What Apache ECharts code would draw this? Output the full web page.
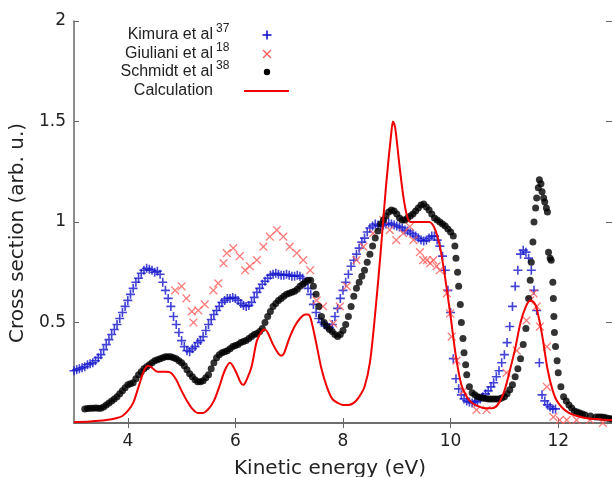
<!DOCTYPE html>
<html>
<head>
<meta charset="utf-8">
<script src="https://cdn.jsdelivr.net/npm/echarts@6/dist/echarts.min.js"></script>
<style>
  html, body { margin: 0; padding: 0; background: #fff; }
  #chart { width: 612px; height: 477px; }
</style>
</head>
<body>
<div id="chart"></div>
<script>
// Kimura et al (blue +)
const kimuraX = [3.00, 3.05, 3.10, 3.15, 3.20, 3.25, 3.30, 3.35, 3.40, 3.45, 3.50, 3.55, 3.60, 3.65, 3.70, 3.75, 3.80, 3.85, 3.90, 3.95,
  4.00, 4.05, 4.10, 4.15, 4.20, 4.25, 4.30, 4.35, 4.40, 4.45, 4.50, 4.55, 4.60, 4.65, 4.70, 4.75, 4.80, 4.85, 4.90, 4.95,
  5.00, 5.05, 5.10, 5.15, 5.20, 5.25, 5.30, 5.35, 5.40, 5.45, 5.50, 5.55, 5.60, 5.65, 5.70, 5.75, 5.80, 5.85, 5.90, 5.95,
  6.00, 6.05, 6.10, 6.15, 6.20, 6.25, 6.30, 6.35, 6.40, 6.45, 6.50, 6.55, 6.60, 6.65, 6.70, 6.75, 6.80, 6.85, 6.90, 6.95,
  7.00, 7.05, 7.10, 7.15, 7.20, 7.25, 7.30, 7.35, 7.40, 7.45, 7.50, 7.55, 7.60, 7.65, 7.70, 7.75, 7.80, 7.85, 7.90, 7.95,
  8.00, 8.05, 8.10, 8.15, 8.20, 8.25, 8.30, 8.35, 8.40, 8.45, 8.50, 8.55, 8.60, 8.65, 8.70, 8.75, 8.80, 8.85, 8.90, 8.95,
  9.00, 9.05, 9.10, 9.15, 9.20, 9.25, 9.30, 9.35, 9.40, 9.45, 9.50, 9.55, 9.60, 9.65, 9.70, 9.75, 9.80, 9.85, 9.90, 9.95,
  10.00, 10.05, 10.10, 10.15, 10.20, 10.25, 10.30, 10.35, 10.40, 10.45, 10.50, 10.55, 10.60, 10.65, 10.70, 10.75, 10.80, 10.85, 10.90, 10.95,
  11.00, 11.05, 11.10, 11.15, 11.20, 11.25, 11.30, 11.35, 11.40, 11.45, 11.50, 11.55, 11.60, 11.65, 11.70, 11.75, 11.80, 11.85, 11.90, 11.95]
const kimuraY = [0.26, 0.265, 0.27, 0.275, 0.28, 0.29, 0.295, 0.30, 0.31, 0.325, 0.34, 0.365, 0.39, 0.415, 0.44, 0.465, 0.49, 0.52, 0.55, 0.58,
  0.61, 0.64, 0.67, 0.70, 0.72, 0.745, 0.76, 0.77, 0.765, 0.76, 0.75, 0.755, 0.74, 0.70, 0.66, 0.62, 0.58, 0.53, 0.49, 0.45,
  0.41, 0.38, 0.36, 0.355, 0.37, 0.38, 0.40, 0.41, 0.43, 0.46, 0.49, 0.515, 0.54, 0.56, 0.58, 0.60, 0.61, 0.62, 0.62, 0.625,
  0.62, 0.61, 0.595, 0.585, 0.58, 0.585, 0.60, 0.625, 0.65, 0.67, 0.69, 0.705, 0.72, 0.735, 0.74, 0.745, 0.74, 0.735, 0.735, 0.74,
  0.735, 0.73, 0.73, 0.735, 0.73, 0.72, 0.70, 0.67, 0.64, 0.59, 0.55, 0.52, 0.50, 0.49, 0.48, 0.475, 0.49, 0.53, 0.57, 0.62,
  0.66, 0.70, 0.74, 0.78, 0.81, 0.84, 0.87, 0.90, 0.92, 0.95, 0.97, 0.98, 0.99, 0.985, 0.98, 0.985, 0.99, 0.995, 0.99, 0.985,
  0.98, 0.975, 0.97, 0.96, 0.955, 0.945, 0.94, 0.93, 0.92, 0.91, 0.905, 0.91, 0.92, 0.93, 0.93, 0.91, 0.88, 0.83, 0.76, 0.66,
  0.55, 0.32, 0.22, 0.17, 0.14, 0.12, 0.11, 0.105, 0.10, 0.105, 0.11, 0.12, 0.13, 0.145, 0.16, 0.18, 0.20, 0.23, 0.26, 0.30,
  0.34, 0.40, 0.48, 0.58, 0.68, 0.76, 0.84, 0.86, 0.85, 0.82, 0.76, 0.66, 0.56, 0.30, 0.14, 0.11, 0.09, 0.08, 0.07, 0.07]

// Giuliani et al (red x)
const giulianiX = [4.88, 5.0, 5.09, 5.19, 5.22, 5.31, 5.43, 5.59, 5.68, 5.78, 5.84, 5.96, 6.08, 6.18, 6.27, 6.4,
  6.52, 6.64, 6.77, 6.89, 7.01, 7.14, 7.26, 7.39, 7.51, 7.63, 7.82, 7.94, 8.07, 8.25, 8.38, 8.56,
  8.75, 8.87, 8.99, 9.12, 9.24, 9.31, 9.43, 9.49, 9.56, 9.62, 9.68, 9.74, 9.8, 9.93, 9.99, 10.02,
  10.11, 10.24, 10.48, 10.67, 11.04, 11.23, 11.41, 11.48, 11.54, 11.6, 11.66, 11.79, 11.79, 11.91,
  12.03, 12.16, 12.34, 12.59, 12.83]
const giulianiY = [0.66, 0.68, 0.62, 0.555, 0.50, 0.56, 0.59, 0.66, 0.695, 0.795, 0.845, 0.87, 0.83, 0.76, 0.78, 0.81,
  0.877, 0.927, 0.96, 0.927, 0.877, 0.845, 0.81, 0.76, 0.61, 0.58, 0.495, 0.58, 0.68, 0.81, 0.877, 0.944,
  1.01, 0.96, 0.91, 0.944, 0.977, 0.91, 0.85, 0.81, 0.81, 0.795, 0.81, 0.78, 0.76, 0.645, 0.545, 0.43,
  0.31, 0.16, 0.065, 0.065, 0.25, 0.36, 0.51, 0.61, 0.645, 0.58, 0.48, 0.38, 0.18, 0.03,
  0.015, 0.015, 0.015, 0.015, 0.0]

// Schmidt et al (black dots)
const schmidtX = [3.20, 3.25, 3.30, 3.35, 3.40, 3.45, 3.50, 3.55, 3.60, 3.65, 3.70, 3.75, 3.80, 3.85, 3.90, 3.95,
  4.00, 4.05, 4.10, 4.15, 4.20, 4.25, 4.30, 4.35, 4.40, 4.45, 4.50, 4.55, 4.60, 4.65, 4.70, 4.75, 4.80, 4.85, 4.90, 4.95,
  5.00, 5.05, 5.10, 5.15, 5.20, 5.25, 5.30, 5.35, 5.40, 5.45, 5.50, 5.55, 5.60, 5.65, 5.70, 5.75, 5.80, 5.85, 5.90, 5.95,
  6.00, 6.05, 6.10, 6.15, 6.20, 6.25, 6.30, 6.35, 6.40, 6.45, 6.50, 6.55, 6.60, 6.65, 6.70, 6.75, 6.80, 6.85, 6.90, 6.95,
  7.00, 7.05, 7.10, 7.15, 7.20, 7.25, 7.30, 7.35, 7.40, 7.45, 7.50, 7.55, 7.60, 7.65, 7.70, 7.75, 7.80, 7.85, 7.90, 7.95,
  8.00, 8.05, 8.10, 8.15, 8.20, 8.25, 8.30, 8.35, 8.40, 8.45, 8.50, 8.55, 8.60, 8.65, 8.70, 8.75, 8.80, 8.85, 8.90, 8.95,
  9.00, 9.05, 9.10, 9.15, 9.20, 9.25, 9.30, 9.35, 9.40, 9.45, 9.50, 9.55, 9.60, 9.65, 9.70, 9.75, 9.80, 9.85, 9.90, 9.95,
  10.00, 10.05, 10.08, 10.10, 10.13, 10.15, 10.18, 10.20, 10.23, 10.25, 10.28, 10.30, 10.35, 10.40, 10.45, 10.50,
  10.55, 10.60, 10.65, 10.70, 10.75, 10.80, 10.85, 10.90, 10.95, 11.00, 11.05, 11.10, 11.15, 11.20, 11.25, 11.30,
  11.35, 11.40, 11.45, 11.48, 11.50, 11.53, 11.55, 11.58, 11.60, 11.63, 11.65, 11.68, 11.70, 11.73, 11.75, 11.78,
  11.80, 11.82, 11.85, 11.87, 11.90, 11.91, 11.92, 11.93, 11.95, 11.98, 12.00, 12.05, 12.10, 12.15, 12.20, 12.25,
  12.30, 12.35, 12.40, 12.45, 12.50, 12.60, 12.70, 12.75, 12.80, 12.85, 12.90, 12.95, 13.00]
const schmidtY = [0.07, 0.072, 0.073, 0.074, 0.075, 0.074, 0.073, 0.08, 0.09, 0.10, 0.11, 0.12, 0.13, 0.145, 0.16, 0.175,
  0.19, 0.195, 0.20, 0.22, 0.24, 0.255, 0.27, 0.28, 0.29, 0.30, 0.31, 0.315, 0.32, 0.325, 0.33, 0.33, 0.33, 0.325, 0.32, 0.31,
  0.30, 0.285, 0.265, 0.245, 0.23, 0.215, 0.205, 0.205, 0.21, 0.225, 0.24, 0.27, 0.30, 0.325, 0.34, 0.35, 0.355, 0.36, 0.37, 0.38,
  0.385, 0.39, 0.40, 0.405, 0.41, 0.42, 0.43, 0.44, 0.445, 0.455, 0.47, 0.50, 0.53, 0.555, 0.58, 0.595, 0.61, 0.62, 0.63, 0.64,
  0.645, 0.65, 0.655, 0.665, 0.68, 0.69, 0.70, 0.71, 0.71, 0.68, 0.64, 0.58, 0.53, 0.50, 0.48, 0.465, 0.455, 0.44, 0.43, 0.44,
  0.46, 0.49, 0.53, 0.58, 0.63, 0.67, 0.70, 0.73, 0.76, 0.80, 0.84, 0.88, 0.92, 0.955, 0.99, 1.01, 1.03, 1.05, 1.06, 1.055,
  1.04, 1.02, 1.01, 1.01, 1.02, 1.03, 1.04, 1.055, 1.07, 1.085, 1.09, 1.075, 1.06, 1.04, 1.02, 1.01, 1.0, 0.99, 0.98, 0.965,
  0.95, 0.93, 0.88, 0.82, 0.75, 0.68, 0.59, 0.50, 0.42, 0.35, 0.29, 0.24, 0.18, 0.15, 0.14, 0.13,
  0.128, 0.125, 0.122, 0.12, 0.12, 0.12, 0.12, 0.12, 0.125, 0.13, 0.145, 0.165, 0.19, 0.23, 0.27, 0.32,
  0.39, 0.47, 0.62, 0.71, 0.80, 0.90, 1.0, 1.07, 1.12, 1.17, 1.21, 1.19, 1.15, 1.12, 1.10, 1.07,
  1.05, 0.85, 0.82, 0.81, 0.70, 0.62, 0.53, 0.45, 0.38, 0.31, 0.25, 0.18, 0.13, 0.11, 0.09, 0.075,
  0.06, 0.055, 0.05, 0.045, 0.04, 0.035, 0.03, 0.03, 0.03, 0.028, 0.025, 0.022, 0.02]

// Calculation (red line)
const calcX = [3.0, 3.3, 3.6, 3.8, 3.9, 4.0, 4.1, 4.2, 4.3, 4.38, 4.45, 4.55, 4.7, 4.8, 4.9, 5.0, 5.1, 5.2, 5.3, 5.4,
  5.5, 5.6, 5.7, 5.8, 5.9, 6.0, 6.1, 6.15, 6.2, 6.3, 6.4, 6.5, 6.55, 6.6, 6.7, 6.8, 6.85, 6.9, 7.0, 7.1,
  7.2, 7.3, 7.35, 7.4, 7.5, 7.6, 7.7, 7.8, 7.9, 8.0, 8.1, 8.2, 8.3, 8.4, 8.5, 8.6, 8.7, 8.8, 8.9, 8.93,
  8.97, 9.05, 9.15, 9.25, 9.4, 9.6, 9.7, 9.8, 9.9, 10.0, 10.1, 10.2, 10.3, 10.4, 10.5, 10.6, 10.7, 10.8, 10.9, 11.0,
  11.1, 11.2, 11.3, 11.4, 11.48, 11.55, 11.6, 11.7, 11.8, 11.9, 12.0, 12.2, 12.5, 12.8, 13.0]
const calcY = [0.005, 0.008, 0.015, 0.025, 0.035, 0.06, 0.10, 0.18, 0.26, 0.285, 0.275, 0.255, 0.255, 0.25, 0.215, 0.16, 0.11, 0.07, 0.05, 0.05,
  0.07, 0.11, 0.18, 0.26, 0.30, 0.26, 0.20, 0.19, 0.21, 0.28, 0.41, 0.46, 0.465, 0.45, 0.39, 0.345, 0.335, 0.345, 0.42, 0.48,
  0.52, 0.54, 0.54, 0.52, 0.40, 0.27, 0.18, 0.12, 0.10, 0.09, 0.09, 0.10, 0.13, 0.18, 0.30, 0.55, 0.85, 1.18, 1.45, 1.50,
  1.47, 1.28, 1.08, 1.0, 1.0, 1.0, 0.97, 0.88, 0.72, 0.53, 0.33, 0.19, 0.13, 0.10, 0.085, 0.075, 0.073, 0.075, 0.10, 0.16,
  0.26, 0.37, 0.50, 0.58, 0.61, 0.60, 0.57, 0.44, 0.27, 0.16, 0.10, 0.05, 0.025, 0.018, 0.015]

const xTicks = [4, 6, 8, 10, 12]

const zip = (xs, ys) => xs.map((x, i) => [x, ys[i]])

// 十字 marker, 旋转 45 度当作叉号
const plusPath = 'path://M4.1,0h1.8v4.1h4.1v1.8h-4.1v4.1h-1.8v-4.1h-4.1v-1.8h4.1z'
const crossPath = 'path://M4.4,0h1.2v4.4h4.4v1.2h-4.4v4.4h-1.2v-4.4h-4.4v-1.2h4.4z'

const axisGrey = '#666'
const tickFont = { fontFamily: 'DejaVu Sans', fontSize: 17, color: '#222' }
const legendFont = '16px "Liberation Sans"'
const supFont = '12px "Liberation Sans"'

const chart = echarts.init(document.getElementById('chart'), null, { renderer: 'canvas' })

const option = {
  animation: false,
  backgroundColor: '#fff',
  grid: { left: 74, right: 0, top: 21, bottom: 54, containLabel: false, outerBoundsMode: 'none' },
  xAxis: [
    {
      type: 'value', min: 3, max: 13, position: 'bottom',
      name: 'Kinetic energy (eV)', nameLocation: 'middle', nameGap: 36,
      // 标题略微偏左
      nameTextStyle: { fontFamily: 'DejaVu Sans', fontSize: 20, color: '#222', padding: [0, 26, 0, 0] },
      axisLine: { show: true, lineStyle: { color: axisGrey, width: 1.5 } },
      axisTick: { show: true, inside: true, length: 5, customValues: xTicks, lineStyle: { color: axisGrey } },
      axisLabel: { customValues: xTicks, margin: 10, ...tickFont },
      splitLine: { show: false }
    },
    {
      type: 'value', min: 3, max: 13, position: 'top',
      axisLine: { show: true, lineStyle: { color: axisGrey, width: 1.5 } },
      axisTick: { show: true, inside: true, length: 5, customValues: xTicks, lineStyle: { color: axisGrey } },
      axisLabel: { show: false },
      splitLine: { show: false }
    }
  ],
  yAxis: [
    {
      type: 'value', min: 0, max: 2, interval: 0.5, position: 'left',
      name: 'Cross section (arb. u.)', nameLocation: 'middle', nameGap: 44,
      // 标题略微偏下
      nameTextStyle: { fontFamily: 'DejaVu Sans', fontSize: 20, color: '#222', padding: [0, 22, 0, 0] },
      axisLine: { show: true, lineStyle: { color: axisGrey, width: 1.5 } },
      axisTick: { show: true, inside: true, length: 5, lineStyle: { color: axisGrey } },
      axisLabel: { margin: 8, formatter: v => (v === 0 ? '' : String(v)), ...tickFont },
      splitLine: { show: false }
    },
    {
      type: 'value', min: 0, max: 2, interval: 0.5, position: 'right',
      axisLine: { show: false },
      axisTick: { show: true, inside: true, length: 6, lineStyle: { color: axisGrey } },
      axisLabel: { show: false },
      splitLine: { show: false }
    }
  ],
  series: [
    {
      name: 'Kimura', type: 'scatter', data: zip(kimuraX, kimuraY),
      symbol: plusPath, symbolSize: 9,
      itemStyle: { color: '#1414cc' }
    },
    {
      name: 'Giuliani', type: 'scatter', data: zip(giulianiX, giulianiY),
      symbol: crossPath, symbolSize: 11, symbolRotate: 45,
      itemStyle: { color: '#ff5a5a' }
    },
    {
      name: 'Schmidt', type: 'scatter', data: zip(schmidtX, schmidtY),
      symbol: 'circle', symbolSize: 7,
      itemStyle: { color: '#000' }
    },
    {
      name: 'Calculation', type: 'line', data: zip(calcX, calcY),
      showSymbol: false, smooth: 0.3,
      lineStyle: { color: '#f00000', width: 2 }
    }
  ],
  // gnuplot 风格图例: 文字右对齐, 符号在右边
  graphic: [
    { type: 'text', style: { x: 213, y: 35, text: 'Kimura et al', align: 'right', verticalAlign: 'middle', font: legendFont, fill: '#222' } },
    { type: 'text', style: { x: 216, y: 29, text: '37', align: 'left', verticalAlign: 'middle', font: supFont, fill: '#222' } },
    { type: 'text', style: { x: 213, y: 54, text: 'Giuliani et al', align: 'right', verticalAlign: 'middle', font: legendFont, fill: '#222' } },
    { type: 'text', style: { x: 216, y: 48, text: '18', align: 'left', verticalAlign: 'middle', font: supFont, fill: '#222' } },
    { type: 'text', style: { x: 213, y: 72, text: 'Schmidt et al', align: 'right', verticalAlign: 'middle', font: legendFont, fill: '#222' } },
    { type: 'text', style: { x: 216, y: 66, text: '38', align: 'left', verticalAlign: 'middle', font: supFont, fill: '#222' } },
    { type: 'text', style: { x: 213, y: 91, text: 'Calculation', align: 'right', verticalAlign: 'middle', font: legendFont, fill: '#222' } },
    { type: 'rect', shape: { x: 262.5, y: 34.2, width: 9, height: 1.6 }, style: { fill: '#1414cc' } },
    { type: 'rect', shape: { x: 266.2, y: 30.5, width: 1.6, height: 9 }, style: { fill: '#1414cc' } },
    { type: 'line', shape: { x1: 263, y1: 50, x2: 271, y2: 58 }, style: { stroke: '#ff5a5a', lineWidth: 1.2 } },
    { type: 'line', shape: { x1: 271, y1: 50, x2: 263, y2: 58 }, style: { stroke: '#ff5a5a', lineWidth: 1.2 } },
    { type: 'circle', shape: { cx: 267, cy: 72, r: 3.2 }, style: { fill: '#000' } },
    { type: 'line', shape: { x1: 244, y1: 91, x2: 289, y2: 91 }, style: { stroke: '#f00000', lineWidth: 2 } }
  ]
}

chart.setOption(option)
</script>
</body>
</html>
